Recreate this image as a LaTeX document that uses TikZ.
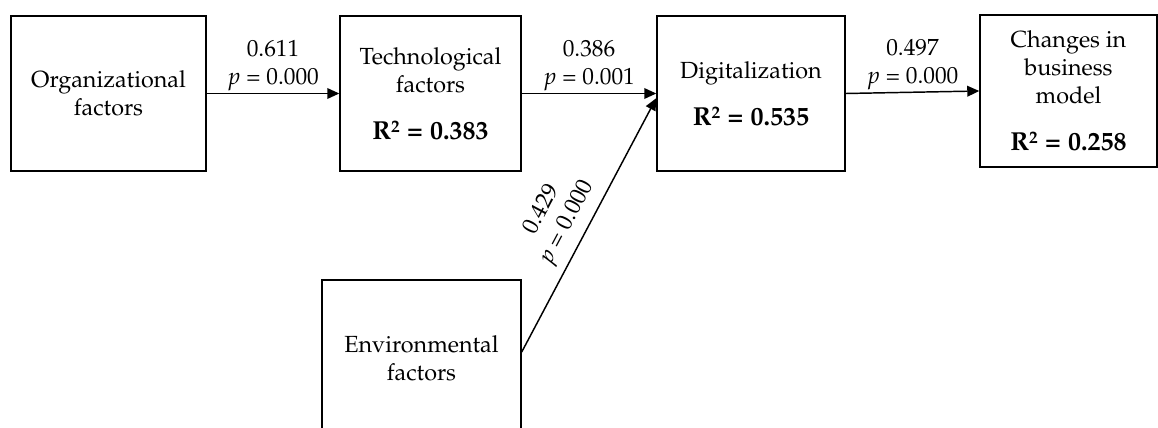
\documentclass[tikz,border=0pt]{standalone}
\usepackage[T1]{fontenc}
\usepackage{mathpazo}
\usepackage{tikz}
\usetikzlibrary{arrows.meta}
\newcommand{\rsq}[1]{{\fontsize{19.5}{21}\selectfont\bfseries R\raisebox{0.55ex}{\fontsize{13}{13}\selectfont 2}\hspace{0.28em}=\hspace{0.28em}#1}}

\begin{document}
\begin{tikzpicture}[x=0.75pt, y=-0.75pt, line width=1.1pt,
  every node/.style={font=\fontsize{17.5}{21}\selectfont},
  factor/.style={draw, align=center, inner sep=0},
  path/.style={-{Triangle[length=9pt,width=8pt]}},
  coef/.style={align=center, inner sep=0}]
\clip (0,0) rectangle (1158,428);
\node (org) [factor, minimum width=146.25pt, minimum height=116.25pt] at (108.5,93.5) {Organizational\\factors};
\node (tech) [factor, minimum width=135.75pt, minimum height=116.25pt] at (430.5,93.5) {Technological\\factors\\[14pt]\rsq{0.383}};
\node (digit) [factor, minimum width=141pt, minimum height=116.25pt] at (751,93.5) {Digitalization\\[14pt]\rsq{0.535}};
\node (bmodel) [factor, minimum width=132.75pt, minimum height=114pt] at (1068.5,91) {Changes in\\business\\model\\[14pt]\rsq{0.258}};
\node (env) [factor, minimum width=149.25pt, minimum height=117pt] at (421.5,358) {Environmental\\factors};
\draw[path] (org) -- node[coef, above=1.5pt] {0.611\\$p$ = 0.000} (tech);
\draw[path] (tech) -- node[coef, above=1.5pt] {0.386\\$p$ = 0.001} (digit);
\draw[path] (digit.east) -- node[coef, above=1.5pt] {0.497\\$p$ = 0.000} (bmodel.west);
\draw[path] ([yshift=4.5pt]env.east) -- node[coef, sloped, above=6pt, pos=0.47] {0.429\\$p$ = 0.000} ([yshift=-3.5pt]digit.west);
\end{tikzpicture}
\end{document}
